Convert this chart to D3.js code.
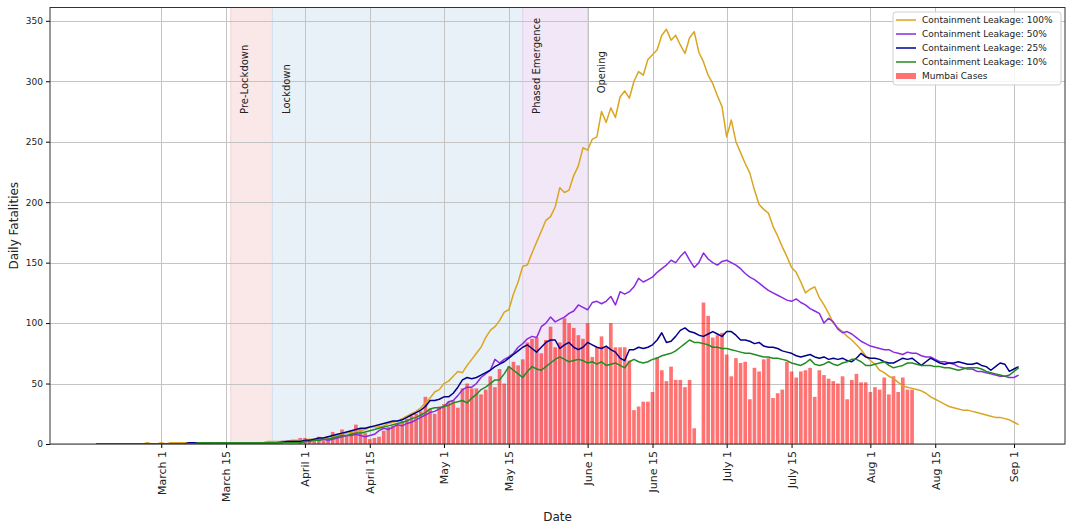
<!DOCTYPE html>
<html lang="en">
<head>
<meta charset="UTF-8">
<script src="https://cdnjs.cloudflare.com/ajax/libs/d3/7.9.0/d3.min.js"></script>
<title>Daily Fatalities</title>
<style>
    body { margin: 0; background: white; font-family: "DejaVu Sans", sans-serif; }
    svg { display: block; }
</style>
</head>
<body>
<div id="chart"></div>
<script>
// ---- data ----
const lineStart = "2020-02-16";   // first day of the model curves
const barStart = "2020-03-31";    // first day of reported Mumbai deaths

const leak100 = [
    0,0,0,0,0,0,0,0,0,0,0,1,0,0,
    1,0,1,1,1,1,1,1,1,1,1,1,1,1,1,1,
    1,1,1,1,1,1,1,2,2,2,2,2,3,3,3,
    3,4,4,5,5,6,6,7,8,9,10,10,11,12,14,14,
    14,15,17,18,19,21,23,25,27,30,34,38,43,45,50,
    52,56,60,59,65,70,75,80,88,94,97,102,109,111,124,
    134,147,148,158,167,176,185,188,196,212,208,210,222,230,245,
    243,252,254,275,266,278,270,287,292,286,300,308,305,318,322,
    326,338,343,334,338,330,323,336,341,324,316,305,298,288,279,
    254,268,250,241,232,224,210,198,194,191,180,172,163,155,146,
    142,134,125,128,130,121,115,108,100,96,93,89,86,82,78,
    73,69,66,61,59,56,54,51,48,47,46,45,44,42,39,
    37,35,33,31,30,29,28,28,27,26,25,24,23,22,22,21,20,18,16
];
const leak50 = [
    0,0,0,0,0,0,0,0,0,0,0,0,0,0,
    0,0,0,0,0,0,0,0,0,1,0,1,1,1,1,1,
    1,1,1,1,1,1,1,1,1,1,2,2,2,2,2,
    2,3,3,3,4,3,4,5,6,7,7,8,7,6,7,8,
    11,13,12,14,16,15,17,18,20,22,24,26,27,29,31,
    35,36,40,45,47,47,50,55,58,61,70,67,70,72,75,
    80,83,87,89,88,97,100,105,101,103,105,108,110,115,113,
    111,117,118,116,118,122,115,126,124,126,130,137,134,136,138,
    142,145,148,152,150,155,159,152,146,150,158,153,150,148,151,
    152,150,148,145,141,138,136,133,130,127,125,123,121,119,118,
    120,117,115,112,110,108,100,104,101,95,92,93,91,88,85,
    83,81,80,79,78,78,76,75,74,76,75,75,73,72,72,
    70,68,68,67,66,64,63,62,62,60,60,59,58,57,56,56,55,55,57
];
const leak25 = [
    0,0,0,0,0,0,0,0,0,0,0,0,0,0,
    0,0,0,0,0,0,1,1,1,1,1,1,1,1,1,1,
    1,1,1,1,1,1,1,1,1,1,1,2,2,2,2,
    3,3,4,5,5,6,7,8,9,10,11,12,13,13,14,15,
    16,17,18,19,19,20,22,24,26,28,31,36,36,37,39,
    39,42,47,53,55,54,55,57,59,61,64,66,68,71,74,
    77,80,82,79,76,80,84,86,86,79,82,84,80,78,80,
    84,82,80,79,81,78,76,71,69,78,78,80,79,80,82,
    86,92,84,85,89,94,96,93,92,90,89,91,93,91,89,
    93,93,90,86,86,85,83,84,81,80,80,79,77,76,75,
    73,72,73,74,72,71,72,70,71,70,71,69,68,71,75,
    72,71,71,70,68,67,67,69,71,70,71,68,65,68,71,
    69,67,66,67,67,68,67,66,66,67,65,64,61,64,67,66,60,62,64
];
const leak10 = [
    0,0,0,0,0,0,0,0,0,0,0,0,0,0,
    0,0,0,0,0,0,0,0,1,1,1,1,1,1,1,1,
    1,1,1,1,1,1,1,1,1,1,1,1,1,1,1,
    2,2,3,3,4,4,5,6,7,7,8,9,9,10,11,12,
    13,14,15,16,17,18,19,21,22,24,26,29,30,30,31,
    32,34,35,36,34,38,41,45,47,50,53,53,58,64,61,
    58,55,60,64,62,61,64,67,70,72,70,68,69,70,69,
    67,68,66,68,65,66,67,65,63,68,70,68,67,68,70,
    71,73,74,75,77,80,83,86,84,84,83,82,80,80,79,
    79,78,77,76,75,75,74,73,72,72,71,71,70,69,67,
    66,65,67,70,66,65,66,68,66,65,67,68,70,70,68,
    65,65,66,67,68,65,63,64,65,67,67,66,65,65,65,
    64,64,63,63,62,61,62,63,63,63,62,60,59,58,57,56,57,60,63
];
const mumbaiCases = [
    5,5,2,3,6,3,5,
    10,6,12,7,11,16,13,9,4,5,
    6,11,14,15,16,19,21,23,25,27,
    39,29,25,31,33,35,36,30,46,50,
    46,46,41,45,56,47,62,50,64,68,
    65,70,84,87,88,75,86,97,80,84,
    104,100,96,90,87,100,72,80,89,80,
    100,80,80,80,69,28,31,35,35,43,
    72,61,52,64,53,53,47,53,13,0,
    117,106,88,90,92,74,56,71,67,68,
    37,63,60,70,71,38,42,45,68,60,
    55,60,61,63,39,61,57,54,52,50,
    56,37,53,58,51,51,43,47,45,55,
    41,56,43,55,45,45
];

const seriesNames = ["Containment Leakage: 100%", "Containment Leakage: 50%",
    "Containment Leakage: 25%", "Containment Leakage: 10%"];
const barName = "Mumbai Cases";

const phaseNames = ["Pre-Lockdown", "Lockdown", "Phased Emergence", "Opening"];
const phaseStarts = ["2020-03-16", "2020-03-25", "2020-05-18", "2020-06-01"];
const phaseEnds = ["2020-03-25", "2020-05-18", "2020-06-01", null];

const tickDates = ["2020-03-01", "2020-03-15", "2020-04-01", "2020-04-15", "2020-05-01", "2020-05-15",
    "2020-06-01", "2020-06-15", "2020-07-01", "2020-07-15", "2020-08-01", "2020-08-15", "2020-09-01"];
const tickLabels = ["March 1", "March 15", "April 1", "April 15", "May 1", "May 15",
    "June 1", "June 15", "July 1", "July 15", "Aug 1", "Aug 15", "Sep 1"];
const yTicks = [0, 50, 100, 150, 200, 250, 300, 350];

// ---- layout ----
const width = 1072, height = 526;
const plot = { left: 50, right: 1065, top: 7.5, bottom: 444 };
const lineColors = ["#daa520", "#8a2be2", "#00008b", "#228b22"];
const phaseColors = ["#fae7e7", "#e8f1f8", "#f1e7f6", null];
const phaseEdges = ["#efd3d3", "#d3e2ee", "#e2d2ec", null];

const parse = d3.timeParse("%Y-%m-%d");
const day0 = parse(lineStart);
const bar0 = parse(barStart);

const svg = d3.select("#chart").append("svg")
    .attr("width", width)
    .attr("height", height);

const x = d3.scaleTime()
    .domain([new Date(2020, 1, 6), new Date(2020, 8, 12)])
    .range([plot.left, plot.right]);

const y = d3.scaleLinear()
    .domain([0, 361])
    .range([plot.bottom, plot.top]);

svg.append("defs").append("clipPath").attr("id", "clip")
    .append("rect")
    .attr("x", plot.left).attr("y", plot.top)
    .attr("width", plot.right - plot.left).attr("height", plot.bottom - plot.top);

// phase spans
phaseNames.forEach((name, i) => {
    if (!phaseEnds[i]) return;
    const x0 = x(parse(phaseStarts[i])), x1 = x(parse(phaseEnds[i]));
    svg.append("rect")
        .attr("x", x0).attr("y", plot.top)
        .attr("width", x1 - x0).attr("height", plot.bottom - plot.top)
        .attr("fill", phaseColors[i])
        .attr("stroke", phaseEdges[i])
        .attr("stroke-width", 1);
});

// grid
const grid = svg.append("g").attr("stroke", "#c4c4c4").attr("stroke-width", 1);
tickDates.forEach(d => {
    const px = Math.round(x(parse(d))) + 0.5;
    grid.append("line").attr("x1", px).attr("x2", px).attr("y1", plot.top).attr("y2", plot.bottom);
});
yTicks.forEach(v => {
    const py = Math.round(y(v)) + 0.5;
    grid.append("line").attr("x1", plot.left).attr("x2", plot.right).attr("y1", py).attr("y2", py);
});

// bars
const barW = x(d3.timeHour.offset(bar0, 19)) - x(bar0);
svg.append("g").attr("clip-path", "url(#clip)")
    .selectAll("rect")
    .data(mumbaiCases)
    .join("rect")
    .attr("x", (d, i) => x(d3.timeDay.offset(bar0, i)) - barW / 2)
    .attr("y", d => y(d))
    .attr("width", barW)
    .attr("height", d => y(0) - y(d))
    .attr("fill", "red")
    .attr("fill-opacity", 0.55);

// lines
const line = d3.line()
    .x((d, i) => x(d3.timeDay.offset(day0, i)))
    .y(d => y(d));

[leak100, leak50, leak25, leak10].forEach((vals, k) => {
    svg.append("path")
        .datum(vals)
        .attr("clip-path", "url(#clip)")
        .attr("fill", "none")
        .attr("stroke", lineColors[k])
        .attr("stroke-width", 1.5)
        .attr("stroke-linejoin", "round")
        .attr("d", line);
});

// phase labels
phaseNames.forEach((name, i) => {
    const px = x(parse(phaseStarts[i])) + 14;
    const py = y(i === 3 ? 290 : 273);
    svg.append("text")
        .attr("transform", `translate(${px},${py}) rotate(-90)`)
        .attr("dy", "0.35em")
        .attr("font-size", 10)
        .attr("fill", "#222")
        .text(name);
});

// axes
const xAxis = d3.axisBottom(x)
    .tickValues(tickDates.map(parse))
    .tickFormat((d, i) => tickLabels[i])
    .tickSize(4);

svg.append("g")
    .attr("transform", `translate(0,${plot.bottom})`)
    .call(xAxis)
    .call(g => g.select(".domain").remove())
    .call(g => g.selectAll("text")
        .attr("transform", "rotate(-90)")
        .attr("text-anchor", "end")
        .attr("x", -7)
        .attr("y", 0)
        .attr("dy", "0.35em")
        .attr("font-size", 11)
        .attr("font-family", "DejaVu Sans")
        .attr("fill", "#222"));

const yAxis = d3.axisLeft(y).tickValues(yTicks).tickSize(4).tickPadding(3);
svg.append("g")
    .attr("transform", `translate(${plot.left},0)`)
    .call(yAxis)
    .call(g => g.select(".domain").remove())
    .call(g => g.selectAll("text")
        .attr("font-size", 9)
        .attr("font-family", "DejaVu Sans")
        .attr("fill", "#222"));

// frame
svg.append("rect")
    .attr("x", plot.left).attr("y", plot.top)
    .attr("width", plot.right - plot.left).attr("height", plot.bottom - plot.top)
    .attr("fill", "none").attr("stroke", "#333").attr("stroke-width", 1);

// axis titles
svg.append("text")
    .attr("x", (plot.left + plot.right) / 2).attr("y", 521)
    .attr("text-anchor", "middle")
    .attr("font-size", 12)
    .attr("fill", "#222")
    .text("Date");

svg.append("text")
    .attr("transform", `translate(18,${(plot.top + plot.bottom) / 2}) rotate(-90)`)
    .attr("text-anchor", "middle")
    .attr("font-size", 12)
    .attr("fill", "#222")
    .text("Daily Fatalities");

// legend
const legend = svg.append("g").attr("transform", "translate(893,12)");
legend.append("rect")
    .attr("width", 168).attr("height", 73).attr("rx", 3)
    .attr("fill", "white").attr("fill-opacity", 0.85)
    .attr("stroke", "#d0d0d0");

seriesNames.forEach((name, k) => {
    const g = legend.append("g").attr("transform", `translate(0,${8 + k * 14})`);
    g.append("line").attr("x1", 3).attr("x2", 23).attr("stroke", lineColors[k]).attr("stroke-width", 1.5);
    g.append("text").attr("x", 29).attr("dy", "0.35em").attr("font-size", 9).attr("fill", "#222").text(name);
});
const gb = legend.append("g").attr("transform", `translate(0,${8 + 4 * 14})`);
gb.append("rect").attr("x", 3).attr("y", -3).attr("width", 20).attr("height", 6)
    .attr("fill", "red").attr("fill-opacity", 0.55);
gb.append("text").attr("x", 29).attr("dy", "0.35em").attr("font-size", 9).attr("fill", "#222").text(barName);
</script>
</body>
</html>
